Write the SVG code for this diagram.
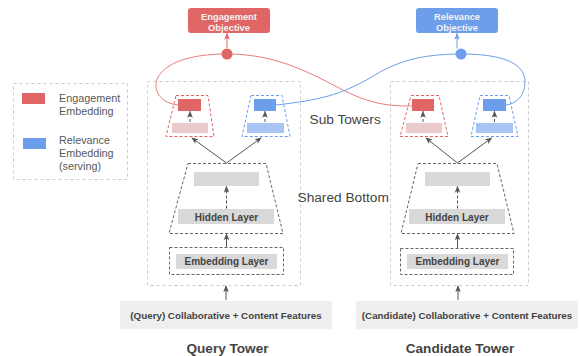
<svg xmlns="http://www.w3.org/2000/svg" width="580" height="356" viewBox="0 0 580 356">
<defs>
<marker id="ah" viewBox="0 0 8 8" refX="7" refY="4" markerWidth="7" markerHeight="7" markerUnits="userSpaceOnUse" orient="auto">
<path d="M0,0.8 L8,4 L0,7.2 L2,4 z" fill="#555"/>
</marker>
<marker id="ahr" viewBox="0 0 8 8" refX="7" refY="4" markerWidth="7" markerHeight="7" markerUnits="userSpaceOnUse" orient="auto">
<path d="M0,0.8 L8,4 L0,7.2 L2,4 z" fill="#e06666"/>
</marker>
<marker id="ahb" viewBox="0 0 8 8" refX="7" refY="4" markerWidth="7" markerHeight="7" markerUnits="userSpaceOnUse" orient="auto">
<path d="M0,0.8 L8,4 L0,7.2 L2,4 z" fill="#6d9eeb"/>
</marker>
</defs>
<style>
.outer{fill:none;stroke:#cccccc;stroke-width:1;stroke-dasharray:3,3}
.dk{fill:none;stroke:#666;stroke-width:1;stroke-dasharray:3,2}
.rdash{fill:none;stroke:#e06666;stroke-width:1;stroke-dasharray:3,2}
.bdash{fill:none;stroke:#6d9eeb;stroke-width:1;stroke-dasharray:3,2}
.gray{fill:#d9d9d9}
.feat{fill:#efefef}
.red{fill:#e06666}
.blue{fill:#6d9eeb}
.lred{fill:#eacaca}
.lblue{fill:#a9c4f2}
.lbl{font-family:"Liberation Sans",Arial,sans-serif;font-weight:bold;font-size:10px;fill:#434343;text-anchor:middle}
.obj{font-family:"Liberation Sans",Arial,sans-serif;font-weight:bold;font-size:9.3px;fill:#f3f3f3;text-anchor:middle}
.side{font-family:"Liberation Sans",Arial,sans-serif;font-size:13.7px;fill:#434343}
.leg{font-family:"Liberation Sans",Arial,sans-serif;font-size:10.8px;fill:#595959}
.title{font-family:"Liberation Sans",Arial,sans-serif;font-weight:bold;font-size:13.6px;fill:#434343;text-anchor:middle}
.arr{fill:none;stroke:#555;stroke-width:1;marker-end:url(#ah)}
.arrd{fill:none;stroke:#555;stroke-width:1;stroke-dasharray:3,2;marker-end:url(#ah)}
</style>
<rect width="580" height="356" fill="#ffffff"/>

<g id="legend">
<rect class="outer" x="13.5" y="83.5" width="114" height="96"/>
<rect class="red" x="22" y="93" width="23" height="11"/>
<rect class="blue" x="23" y="138" width="23" height="11"/>
<text class="leg" x="59" y="102">Engagement</text>
<text class="leg" x="59" y="115">Embedding</text>
<text class="leg" x="59" y="144">Relevance</text>
<text class="leg" x="59" y="157">Embedding</text>
<text class="leg" x="59" y="170">(serving)</text>
</g>

<g id="engagement-objective">
<rect class="red" x="188" y="8" width="82" height="25" rx="3"/>
<text class="obj" x="229" y="19.5">Engagement</text>
<text class="obj" x="229" y="30.5">Objective</text>
</g>
<g id="relevance-objective">
<rect class="blue" x="416" y="8" width="82" height="25" rx="3"/>
<text class="obj" x="457" y="19.5">Relevance</text>
<text class="obj" x="457" y="30.5">Objective</text>
</g>

<g id="query-tower">
<rect class="outer" x="147.5" y="81.5" width="153" height="204"/>
<g id="q-engagement-subtower">
<polygon class="rdash" points="176,95.5 208,95.5 214,136.5 166,136.5"/>
<rect class="red" x="178" y="99" width="23" height="12"/>
<rect class="lred" x="172" y="123" width="36" height="10"/>
</g>
<g id="q-relevance-subtower">
<polygon class="bdash" points="251,95.5 282,95.5 290,136.5 242,136.5"/>
<rect class="blue" x="254" y="99" width="22" height="12"/>
<rect class="lblue" x="247" y="123" width="37" height="10"/>
</g>
<g id="q-shared-bottom">
<polygon class="dk" points="188,163.5 266,163.5 283,233.5 169,233.5"/>
<rect class="gray" x="194" y="172" width="65" height="14"/>
<rect class="gray" x="178" y="209" width="96" height="15"/>
<text class="lbl" x="226.5" y="220.5">Hidden Layer</text>
</g>
<g id="q-embedding">
<rect class="dk" x="169.5" y="247.5" width="114" height="27"/>
<rect class="gray" x="176" y="254" width="101" height="15"/>
<text class="lbl" x="226.5" y="264.8">Embedding Layer</text>
</g>
</g>

<g id="candidate-tower">
<rect class="outer" x="390.5" y="81.5" width="138" height="204"/>
<g id="c-engagement-subtower">
<polygon class="rdash" points="411,95.5 439,95.5 448,136.5 400,136.5"/>
<rect class="red" x="412" y="99" width="22" height="12"/>
<rect class="lred" x="406" y="123" width="36" height="10"/>
</g>
<g id="c-relevance-subtower">
<polygon class="bdash" points="480,95.5 509,95.5 518,136.5 471,136.5"/>
<rect class="blue" x="483" y="99" width="23" height="12"/>
<rect class="lblue" x="476" y="123" width="37" height="10"/>
</g>
<g id="c-shared-bottom">
<polygon class="dk" points="418,163.5 497,163.5 514,233.5 401,233.5"/>
<rect class="gray" x="425" y="172" width="65" height="14"/>
<rect class="gray" x="409" y="209" width="96" height="15"/>
<text class="lbl" x="457" y="220.5">Hidden Layer</text>
</g>
<g id="c-embedding">
<rect class="dk" x="400.5" y="248.5" width="113" height="26"/>
<rect class="gray" x="407" y="254" width="101" height="15"/>
<text class="lbl" x="457.5" y="264.8">Embedding Layer</text>
</g>
</g>

<g id="query-features">
<rect class="feat" x="120" y="301" width="212" height="28"/>
<text class="lbl" x="226" y="318.5" style="font-size:9.8px">(Query) Collaborative + Content Features</text>
</g>
<g id="candidate-features">
<rect class="feat" x="356" y="301" width="222" height="28"/>
<text class="lbl" x="467" y="318.5" style="font-size:9.8px">(Candidate) Collaborative + Content Features</text>
</g>

<g id="connectors">
<path d="M178,105 C145,102 140,54 227,54 C280,54 315,76 345,91 C375,106 395,106 412,106" fill="none" stroke="#e67c7c" stroke-width="1"/>
<path d="M276,105 C320,100 340,95 370,78 C395,62 420,54 461,54 C500,54 525,62 525,82 C525,97 515,104 506,105" fill="none" stroke="#6d9eeb" stroke-width="1"/>
<circle cx="227" cy="54" r="5.5" fill="#e06666"/>
<circle cx="461" cy="54" r="5.5" fill="#6d9eeb"/>
<line x1="227" y1="48" x2="227" y2="33.5" stroke="#e06666" stroke-width="1" marker-end="url(#ahr)"/>
<line x1="457" y1="48.5" x2="457" y2="33.5" stroke="#6d9eeb" stroke-width="1" marker-end="url(#ahb)"/>

<line class="arr" x1="226.5" y1="163" x2="192" y2="138"/>
<line class="arr" x1="226.5" y1="163" x2="261" y2="138"/>
<line class="arrd" x1="190" y1="122" x2="190" y2="111.5"/>
<line class="arrd" x1="265" y1="122" x2="265" y2="111.5"/>
<line class="arrd" x1="226.5" y1="208.5" x2="226.5" y2="186.5"/>
<line class="arr" x1="226.5" y1="247" x2="226.5" y2="234"/>
<line class="arr" x1="226" y1="300" x2="226" y2="286"/>

<line class="arr" x1="457.5" y1="163" x2="426" y2="138"/>
<line class="arr" x1="457.5" y1="163" x2="491.5" y2="138"/>
<line class="arrd" x1="423" y1="122" x2="423" y2="111.5"/>
<line class="arrd" x1="494.5" y1="122" x2="494.5" y2="111.5"/>
<line class="arrd" x1="457.5" y1="208.5" x2="457.5" y2="186.5"/>
<line class="arr" x1="457.5" y1="248" x2="457.5" y2="234"/>
<line class="arr" x1="458" y1="300" x2="458" y2="286"/>
</g>

<text class="side" x="309.5" y="124.3">Sub Towers</text>
<text class="side" x="297.5" y="201.7">Shared Bottom</text>
<text class="title" x="227.5" y="353">Query Tower</text>
<text class="title" x="460" y="353">Candidate Tower</text>
</svg>
